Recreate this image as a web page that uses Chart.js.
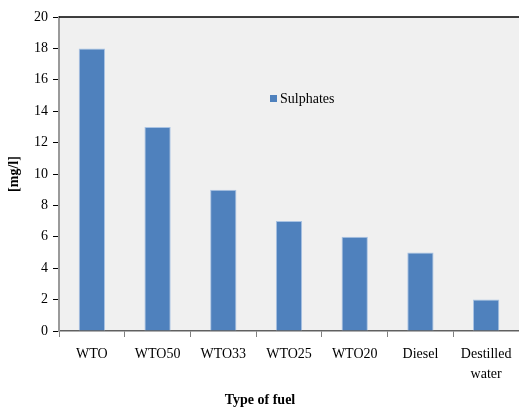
<!DOCTYPE html>
<html>
<head>
<meta charset="utf-8">
<script src="https://cdn.jsdelivr.net/npm/chart.js@4/dist/chart.umd.min.js"></script>
<style>
  html, body { margin: 0; padding: 0; background: #ffffff; }
  #wrap { width: 519px; height: 410px; }
</style>
</head>
<body>
<div id="wrap"><canvas id="c" width="519" height="410"></canvas></div>
<script>
// Sulphate content per fuel type
const fuelTypes = ['WTO', 'WTO50', 'WTO33', 'WTO25', 'WTO20', 'Diesel', ['Destilled', 'water']];
const sulphates = [18, 13, 9, 7, 6, 5, 2];
const seriesName = 'Sulphates';
const xTitle = 'Type of fuel';
const yTitle = '[mg/l]';

const serif = '"Liberation Serif", "DejaVu Serif", serif';
const barBlue = '#4f81bd';

// Plot background, top frame line, inline legend and x title
const decor = {
  id: 'decor',
  beforeDraw(chart) {
    const { ctx, chartArea: a } = chart;
    ctx.save();
    ctx.fillStyle = '#f0f0f0';
    ctx.fillRect(a.left, a.top, a.right - a.left, a.bottom - a.top);
    ctx.restore();
  },
  afterDraw(chart) {
    const { ctx, chartArea: a } = chart;
    ctx.save();
    ctx.strokeStyle = '#000000';
    ctx.lineWidth = 1.5;
    ctx.beginPath();
    ctx.moveTo(a.left, a.top);
    ctx.lineTo(a.right, a.top);
    ctx.stroke();

    // legend
    ctx.fillStyle = barBlue;
    ctx.fillRect(270, 95, 7, 7);
    ctx.fillStyle = '#000000';
    ctx.font = '14px ' + serif;
    ctx.textBaseline = 'middle';
    ctx.textAlign = 'left';
    ctx.fillText(chart.data.datasets[0].label, 280, 99);

    // x-axis title
    ctx.font = 'bold 14px ' + serif;
    ctx.textAlign = 'center';
    ctx.fillText(xTitle, 260, 400);
    ctx.restore();
  }
};

new Chart(document.getElementById('c'), {
  type: 'bar',
  data: {
    labels: fuelTypes,
    datasets: [{
      label: seriesName,
      data: sulphates,
      backgroundColor: barBlue,
      borderColor: '#a9c3e3',
      borderWidth: 1,
      barPercentage: 0.4,
      categoryPercentage: 1.0
    }]
  },
  options: {
    responsive: false,
    animation: false,
    devicePixelRatio: 1,
    layout: { padding: { top: 17, right: 0, left: 0, bottom: 0 } },
    plugins: { legend: { display: false }, tooltip: { enabled: false } },
    scales: {
      x: {
        offset: true,
        grid: {
          offset: true,
          drawOnChartArea: false,
          drawTicks: true,
          tickLength: 6,
          color: '#808080'
        },
        border: { color: '#606060', width: 1.5 },
        ticks: {
          color: '#000000',
          font: { family: serif, size: 14, lineHeight: 1.45 },
          maxRotation: 0,
          autoSkip: false,
          padding: 7
        },
        afterFit(scale) { scale.height = 79; }
      },
      y: {
        min: 0,
        max: 20,
        grid: {
          drawOnChartArea: false,
          drawTicks: true,
          tickLength: 6,
          color: '#000000'
        },
        border: { color: '#9a9a9a', width: 2 },
        ticks: {
          stepSize: 2,
          color: '#000000',
          font: { family: serif, size: 14 },
          padding: 5
        },
        title: {
          display: true,
          text: yTitle,
          color: '#000000',
          font: { family: serif, size: 14, weight: 'bold' },
          padding: { top: 6, bottom: 0 }
        },
        afterFit(scale) { scale.width = 59; }
      }
    }
  },
  plugins: [decor]
});
</script>
</body>
</html>
